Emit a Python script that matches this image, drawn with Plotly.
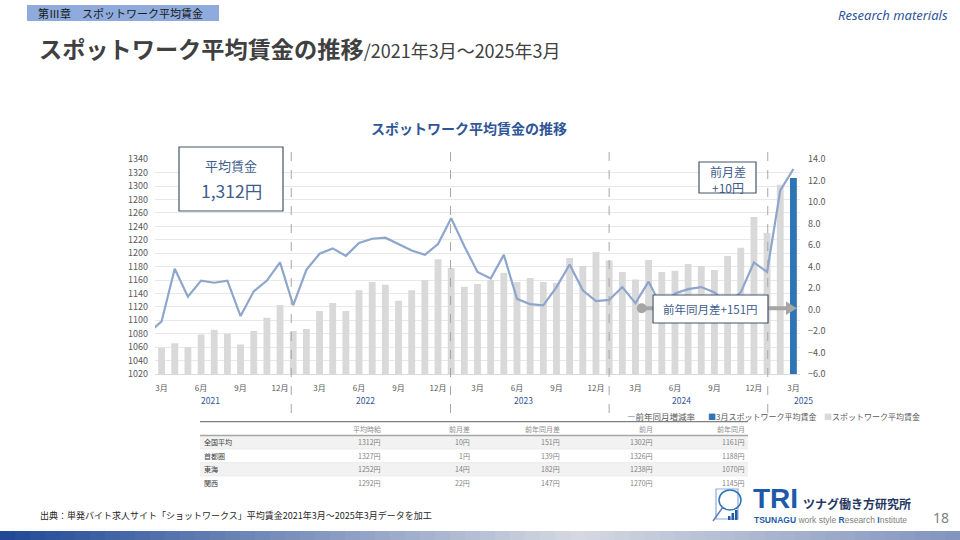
import plotly.graph_objects as go

# ---- data ----
months = []
for yr in range(2021, 2026):
    for mo in range(1, 13):
        if (2021, 3) <= (yr, mo) <= (2025, 3):
            months.append(f"{yr}-{mo:02d}")

# スポットワーク平均賃金 (円)
wage = [1059, 1066, 1060, 1079, 1086, 1080, 1064, 1084, 1104, 1123,
        1084, 1087, 1114, 1126, 1114, 1145, 1157, 1153, 1129, 1145, 1160, 1191,
        1178, 1150, 1154, 1160, 1171, 1157, 1163, 1157, 1156, 1193, 1181, 1202,
        1189, 1172, 1161, 1190, 1172, 1174, 1184, 1181, 1175, 1196, 1208, 1254,
        1230, 1302, 1312]

# 前年同月増減率 (%) - the line starts one month earlier, clipped at the plot edge
rate_months = ["2021-02"] + months
yoy_rate = [-2.2,
            -1.1, 3.8, 1.2, 2.7, 2.5, 2.7, -0.6, 1.7, 2.7, 4.4,
            0.4, 3.7, 5.2, 5.7, 5.0, 6.2, 6.6, 6.7, 6.1, 5.5, 5.1, 6.1,
            8.5, 5.9, 3.5, 2.9, 5.1, 1.0, 0.5, 0.4, 2.1, 4.2, 1.8, 0.8,
            0.9, 2.1, 0.6, 2.6, 0.2, 1.5, 1.9, 2.1, 1.6, 0.6, 1.6, 4.4,
            3.5, 11.1, 13.1]

years = ["2021", "2022", "2023", "2024", "2025"]

# table
regions = ["全国平均", "首都圏", "東海", "関西"]
tbl_head = ["平均時給", "前月差", "前年同月差", "前月", "前年同月"]
avg_wage = ["1312円", "1327円", "1252円", "1292円"]
mom_diff = ["10円", "1円", "14円", "22円"]
yoy_diff = ["151円", "139円", "182円", "147円"]
prev_month = ["1302円", "1326円", "1238円", "1270円"]
prev_year = ["1161円", "1188円", "1070円", "1145円"]
tbl_cols = [avg_wage, mom_diff, yoy_diff, prev_month, prev_year]


def pos(m):
    return (int(m[:4]) - 2021) * 12 + int(m[5:]) - 3


def P(x, y):
    return x / 960, 1 - y / 540


FONT = "Noto Sans CJK JP"
GRAY_BAR = "#D9D9D9"
BLUE_BAR = "#2E75B6"
LINE_C = "#8EA5CC"
NAVY = "#2F5597"
BOXTXT = "#3E5C8C"

bar_x = [pos(m) for m in months]
bar_colors = [GRAY_BAR] * (len(months) - 1) + [BLUE_BAR]

fig = go.Figure()
fig.add_trace(go.Bar(x=bar_x, y=wage, marker_color=bar_colors, width=0.52,
                     marker_line_width=0, yaxis="y", showlegend=False))
fig.add_trace(go.Scatter(x=[pos(m) for m in rate_months], y=yoy_rate, mode="lines",
                         line=dict(color=LINE_C, width=2.2), yaxis="y2", showlegend=False))

tickvals = [pos(m) for m in months if int(m[5:]) % 3 == 0]
ticktext = [f"{int(m[5:])}月" for m in months if int(m[5:]) % 3 == 0]

shapes = []
annos = []


def txt(x, y, s, size, color="#404040", xa="center", family=FONT, ya="middle"):
    px_, py_ = P(x, y)
    annos.append(dict(x=px_, y=py_, xref="paper", yref="paper", text=s, showarrow=False,
                      xanchor=xa, yanchor=ya, font=dict(size=size, color=color, family=family)))


def rect(x0, y0, x1, y1, fill=None, line=None, lw=1, layer="above"):
    a, b = P(x0, y1)
    c, d = P(x1, y0)
    shapes.append(dict(type="rect", xref="paper", yref="paper", x0=a, y0=b, x1=c, y1=d,
                       fillcolor=fill or "rgba(0,0,0,0)", layer=layer,
                       line=dict(color=line or "rgba(0,0,0,0)", width=lw if line else 0)))


def hline(x0, x1, y, color, w):
    a, b = P(x0, y)
    c, _ = P(x1, y)
    shapes.append(dict(type="line", xref="paper", yref="paper", x0=a, y0=b, x1=c, y1=b,
                       line=dict(color=color, width=w)))


# year separators
for xv in [9.85, 21.95, 34.0, 46.05]:
    shapes.append(dict(type="line", xref="x", yref="paper", x0=xv, x1=xv,
                       y0=P(0, 413)[1], y1=P(0, 143)[1],
                       line=dict(color="#A6A6A6", width=1, dash="dash")))

# year labels
for yl, xv in zip(years[:-1], [3.75, 15.5, 27.5, 39.5]):
    annos.append(dict(x=xv, y=P(0, 399.5)[1], xref="x", yref="paper", text=yl,
                      showarrow=False, yanchor="middle",
                      font=dict(size=8.5, color=NAVY, family=FONT)))
txt(803, 399.5, years[-1], 8.5, NAVY)

# header strip
rect(27, 5, 219, 21, fill="#8FAADC")
txt(36, 13, "第Ⅲ章　スポットワーク平均賃金", 11, "#1A1A1A", xa="left")
txt(950, 15, "<i>Research materials</i>", 13, NAVY, xa="right", family="Noto Sans")
txt(37, 48, "<b>スポットワーク平均賃金の推移</b><span style='font-size:18px'>/2021年3月～2025年3月</span>",
    23.2, "#404040", xa="left")
txt(469, 128, "<b>スポットワーク平均賃金の推移</b>", 14, NAVY)

# 平均賃金 box
rect(179, 147, 283, 211, fill="white", line="#44546A", lw=1.2)
txt(231, 166, "平均賃金", 13, BOXTXT)
txt(231, 190, "1,312円", 17.5, BOXTXT)

# 前月差 box
rect(699, 162, 756, 193, fill="white", line="#44546A", lw=1.2)
txt(727.5, 179.5, "前月差<br>+10円", 12, BOXTXT)

# arrow + 前年同月差 box
hline(641.7, 787, 308.3, "#A6A6A6", 4)
a, b = P(636.7, 303.3)
c, d = P(646.7, 313.3)
shapes.append(dict(type="circle", xref="paper", yref="paper", x0=a, y0=d, x1=c, y1=b,
                   fillcolor="#A6A6A6", line=dict(width=0)))
t1, t2, t3 = P(786, 301.5), P(797, 308.3), P(786, 315.1)
shapes.append(dict(type="path", xref="paper", yref="paper",
                   path=f"M {t1[0]} {t1[1]} L {t2[0]} {t2[1]} L {t3[0]} {t3[1]} Z",
                   fillcolor="#A6A6A6", line=dict(width=0)))
rect(653, 295, 768, 323, fill="white", line="#44546A", lw=1.2)
txt(710.5, 309, "前年同月差+151円", 11.5, BOXTXT)

# legend
txt(625, 416, f"<span style='color:{LINE_C}'>ー</span>前年同月増減率", 8.5, "#595959", xa="left")
txt(706, 416, f"<span style='color:{BLUE_BAR}'>■</span>3月スポットワーク平均賃金", 8, "#595959", xa="left")
txt(822, 416, f"<span style='color:{GRAY_BAR}'>■</span>スポットワーク平均賃金", 8, "#595959", xa="left")

# table
col_right = [383, 472, 562, 655, 747]
row_y = [442.3, 455.7, 469.3, 482.7]
for r in (0, 2):
    rect(200, row_y[r] - 6.7, 748, row_y[r] + 6.7, fill="#F2F2F2", layer="below")
hline(200, 748, 421.7, "#7F7F7F", 1.2)
hline(200, 748, 435.5, "#A6A6A6", 1.5)
for yv in [449, 462.6, 476]:
    hline(200, 748, yv, "#E4E4E4", 0.6)
for h, xr in zip(tbl_head, col_right):
    txt(xr, 428.5, h, 7, "#8C8C8C", xa="right")
for r, name in enumerate(regions):
    txt(202, row_y[r], name, 7, "#404040", xa="left")
    for col, xr in zip(tbl_cols, col_right):
        txt(xr, row_y[r], col[r], 7, "#7F7F7F", xa="right")

# footer
txt(38, 515, "出典：単発バイト求人サイト「ショットワークス」平均賃金2021年3月～2025年3月データを加工",
    9, "#262626", xa="left")

# logo
rect(716, 489, 738, 519, line="#8FAADC", lw=1.2)
a, b = P(719, 490)
c, d = P(741, 510)
shapes.append(dict(type="circle", xref="paper", yref="paper", x0=a, y0=d, x1=c, y1=b,
                   line=dict(color="#2E75B6", width=1.5), fillcolor="rgba(255,255,255,0)"))
a, b = P(723, 507)
c, d = P(713, 521)
shapes.append(dict(type="line", xref="paper", yref="paper", x0=a, y0=b, x1=c, y1=d,
                   line=dict(color="#5B7DB8", width=1.5)))
for bx, bh in [(728, 4), (731.5, 7), (735, 10)]:
    rect(bx, 520 - bh, bx + 2.5, 520, fill="#1E5AA8")
txt(751, 498, "<b>TRI</b>", 28, "#1E5AA8", xa="left", family="Liberation Sans")
txt(801, 503, "<b>ツナグ働き方研究所</b>", 12, "#1F3864", xa="left")
txt(752, 520, "<b><span style='color:#1E5AA8'>TSUNAGU</span></b> work style "
    "<b><span style='color:#1E5AA8'>R</span></b>esearch "
    "<b><span style='color:#1E5AA8'>I</span></b>nstitute", 8.5, "#7F7F7F", xa="left",
    family="Liberation Sans")
txt(941, 517, "18", 14, "#7F7F7F", family="Noto Sans")

# bottom gradient band
stops = [(0.0, (31, 72, 150)), (0.6, (214, 217, 226)), (1.0, (128, 148, 190))]
n = 64
for i in range(n):
    t = (i + 0.5) / n
    for (t0, c0), (t1_, c1) in zip(stops[:-1], stops[1:]):
        if t0 <= t <= t1_:
            f = (t - t0) / (t1_ - t0)
            col = tuple(int(c0[k] + (c1[k] - c0[k]) * f) for k in range(3))
    rect(960 * i / n, 531, 960 * (i + 1) / n + 0.5, 541, fill=f"rgb{col}")

fig.update_layout(
    width=960, height=540, margin=dict(l=0, r=0, t=0, b=0, pad=0, autoexpand=False),
    paper_bgcolor="white", plot_bgcolor="white",
    font=dict(family=FONT, color="#595959"),
    bargap=0.4,
    xaxis=dict(domain=[155 / 960, 800 / 960], range=[-0.5, 48.5],
               tickvals=tickvals, ticktext=ticktext, tickfont=dict(size=8, color="#595959"),
               showgrid=False, zeroline=False, showline=True, linecolor="#D9D9D9", ticks="",
               ticklabelstandoff=6, automargin=False),
    yaxis=dict(domain=[1 - 374 / 540, 1 - 159.3 / 540], range=[1020, 1340],
               dtick=20, tickfont=dict(size=9, color="#595959"), gridcolor="#E8E8E8",
               zeroline=False, ticklabelstandoff=6, automargin=False),
    yaxis2=dict(overlaying="y", side="right", anchor="x", range=[-6, 14], dtick=2,
                tickformat=".1f", tickfont=dict(size=9, color="#595959"),
                showgrid=False, zeroline=False, ticklabelstandoff=7, automargin=False),
    shapes=shapes, annotations=annos,
)

# drop the browser's default 8px body margin so the figure sits at the page corner
fig.write_html("out.html", config={"displayModeBar": False},
               post_script="document.body.style.margin='0px';")
